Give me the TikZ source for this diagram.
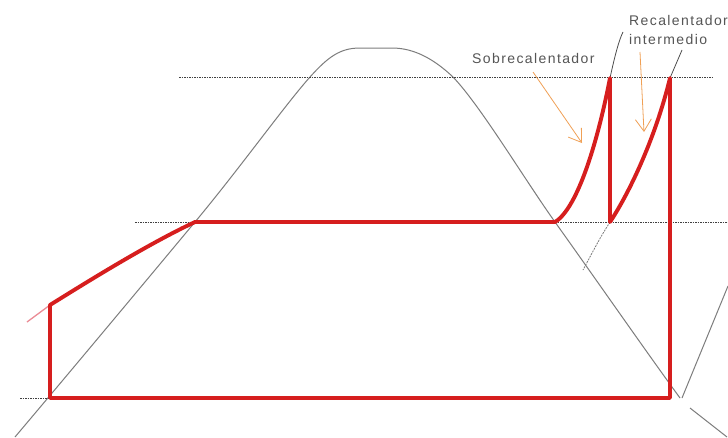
\documentclass[tikz,border=0pt]{standalone}
\usepackage{fontspec}
\setmainfont{Liberation Sans}
\newfontfamily\lblfont[LetterSpace=10]{Liberation Sans}
\usetikzlibrary{arrows.meta}
\definecolor{cyc}{RGB}{214,30,30}
\definecolor{domec}{RGB}{125,125,125}
\definecolor{lblc}{RGB}{85,85,85}
\definecolor{arrc}{RGB}{240,160,85}
\definecolor{pinkc}{RGB}{235,140,150}
\begin{document}
\begin{tikzpicture}[x=1pt,y=-1pt,
  domeline/.style={draw=domec, line width=1pt},
  guide/.style={draw=black!75, line width=0.6pt, dash pattern=on 1.6pt off 0.9pt},
  greyguide/.style={draw=domec, line width=0.8pt, dash pattern=on 2pt off 1pt},
  cycleline/.style={draw=cyc, line width=3.9pt, line join=round, line cap=round},
  pointer/.style={draw=arrc, line width=0.8pt, -{Straight Barb[length=12pt,width=16pt,line width=0.8pt]}},
  darkline/.style={draw=black!70, line width=0.8pt},
  lbl/.style={text=lblc, inner sep=0pt, anchor=base west, font=\lblfont\fontsize{14}{16}\selectfont}]
\useasboundingbox (0,0) rectangle (728,437);
\fill[white] (0,0) rectangle (728,437);

% saturation dome
\draw[domeline] (15,437) .. controls (75,366) and (150,276) .. (195,222)
  .. controls (240,168) and (285,105) .. (310,77)
  .. controls (328,57) and (340,48) .. (360,48) -- (392,48)
  .. controls (415,48) and (435,60) .. (453,77)
  .. controls (480,105) and (525,180) .. (555,222)
  .. controls (595,278) and (645,350) .. (680,398);
\draw[domeline] (690,408) -- (727,437);
\coordinate (lr0) at (682,398);
\coordinate (lr1) at (728,286);
\draw[domeline] (lr0) -- (lr1);

% dashed guide lines
\coordinate (t0) at (179,77);  \coordinate (t1) at (712,77);
\coordinate (m0) at (135,222); \coordinate (m1) at (728,222);
\coordinate (b0) at (20,398);
\draw[guide] (t0) -- (t1);
\draw[guide] (m0) -- (m1);

% cycle points
\coordinate (A) at (50,398);
\coordinate (B) at (50,305);
\coordinate (C) at (195,222);
\coordinate (D) at (555,222);
\coordinate (E) at (610,78);
\coordinate (F) at (610,222);
\coordinate (G) at (670,78);
\coordinate (H) at (670,398);
\draw[guide] (b0) -- (A);

% reheat isobar continuation
\coordinate (rc) at (583,270);
\draw[greyguide] (F) .. controls (600,238) .. (rc);

% faint extension at left
\coordinate (px) at (27,322);
\draw[draw=pinkc, line width=1.3pt] (px) -- (B);

% thin pointer lines at top
\coordinate (e1) at (623,32);
\coordinate (g1) at (682,50);
\draw[darkline] (E) .. controls (615,55) and (619,40) .. (e1);
\draw[darkline] (G) -- (g1);

% cycle
\draw[cycleline] (A) -- (B) .. controls (90,280) and (150,243) .. (C) -- (D)
  .. controls (578,208) and (598,140) .. (E) -- (F)
  .. controls (628,195) and (655,140) .. (G) -- (H) -- cycle;

% labels
\node[lbl] (sob) at (472,63) {Sobrecalentador};
\node[lbl] (rec) at (629,25) {Recalentador};
\node[lbl] (int) at (629,44) {intermedio};

% orange arrows
\coordinate (a1s) at (533,72);
\coordinate (a1e) at (582,143);
\coordinate (a2s) at (640,52);
\coordinate (a2e) at (644,132);
\draw[pointer] (a1s) -- (a1e);
\draw[pointer] (a2s) -- (a2e);
\end{tikzpicture}
\end{document}
